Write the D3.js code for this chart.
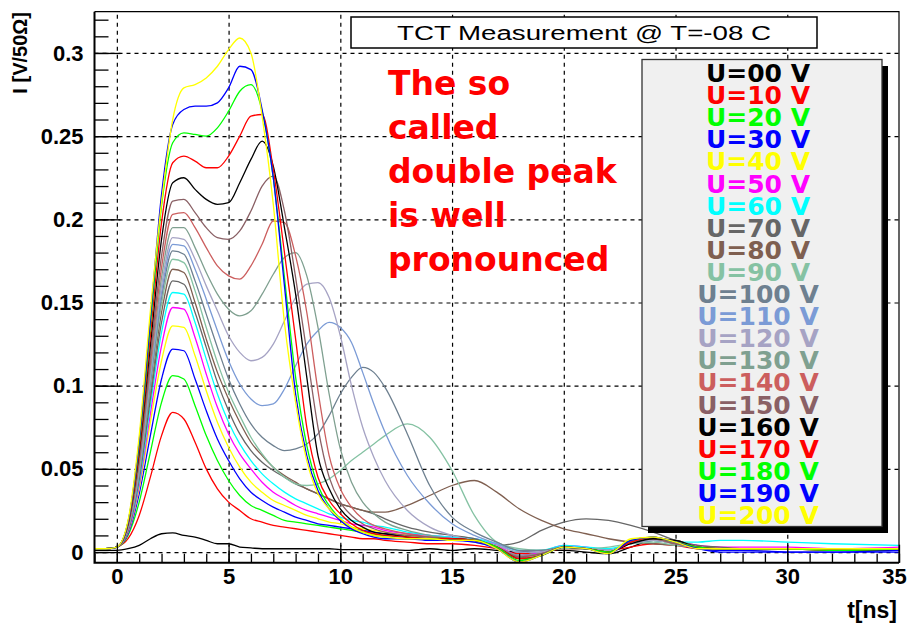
<!DOCTYPE html>
<html><head><meta charset="utf-8">
<script src="https://cdn.jsdelivr.net/npm/d3@7"></script>
<style>
html,body{margin:0;padding:0;background:#fff;}
svg{display:block;}
</style></head><body>
<svg id="chart" width="910" height="624"></svg>
<script>
// sampling times in ns
const times = [-1,-0.5,0,0.5,1,1.5,2,2.5,3,3.5,
  4,4.5,5,5.5,6,6.5,7,7.5,8,8.5,
  9,9.5,10,10.5,11,11.5,12,
  13,14,15,16,17,18,19,20,21,22,
  23,24,25,26,27,28,30,32,35];

// bias voltages and legend labels
const voltages = [0,10,20,30,40,50,60,70,80,90,100,110,120,130,140,150,160,170,180,190,200];
const legendLabels = ["U=00 V","U=10 V","U=20 V","U=30 V","U=40 V","U=50 V","U=60 V","U=70 V","U=80 V","U=90 V",
  "U=100 V","U=110 V","U=120 V","U=130 V","U=140 V","U=150 V","U=160 V","U=170 V","U=180 V","U=190 V","U=200 V"];
const colors = ["#000000","#ff0000","#00ff00","#0000ff","#ffff00","#ff00ff","#00ffff","#666666","#7f5f50","#85c2a3",
  "#6e8090","#7b9bd6","#a6a3c4","#7fa090","#cc5e5e","#8a6065","#000000","#ff0000","#00ff00","#0000ff","#ffff00"];

// current I [V/50 Ohm] for each bias voltage
const u000 = [0.001,0.001,0.001,0.002,0.004,0.008,0.011,0.0115,0.010,0.009,
  0.007,0.005,0.005,0.003,0.0025,0.002,0.002,0.002,0.002,0.002,
  0.002,0.002,0.0015,0.0015,0.0015,0.0015,0.0015,
  0.001,0.002,0.001,0.002,0.001,0.000,0.001,0.001,0.000,-0.001,
  0.003,0.007,0.007,0.002,0.001,0.001,0.002,0.001,0.001];
const u010 = [0.002,0.002,0.003,0.008,0.022,0.045,0.070,0.084,0.080,0.066,
  0.050,0.038,0.030,0.025,0.020,0.018,0.016,0.015,0.014,0.013,
  0.012,0.011,0.010,0.009,0.008,0.008,0.007,
  0.006,0.005,0.005,0.004,0.002,-0.001,0.000,0.002,0.002,0.001,
  0.003,0.005,0.004,0.002,0.002,0.002,0.002,0.001,0.002];
const u020 = [0.002,0.002,0.003,0.010,0.030,0.060,0.090,0.106,0.104,0.088,
  0.070,0.055,0.043,0.034,0.028,0.025,0.022,0.019,0.018,0.017,
  0.016,0.015,0.014,0.013,0.012,0.011,0.010,
  0.009,0.008,0.008,0.007,0.003,-0.002,0.000,0.003,0.002,0.001,
  0.005,0.007,0.005,0.003,0.002,0.002,0.002,0.002,0.002];
const u030 = [0.002,0.002,0.003,0.011,0.035,0.070,0.104,0.122,0.121,0.104,
  0.085,0.068,0.055,0.044,0.036,0.031,0.027,0.024,0.021,0.019,
  0.017,0.016,0.015,0.014,0.013,0.012,0.011,
  0.010,0.009,0.008,0.007,0.003,-0.003,-0.001,0.003,0.002,0.000,
  0.006,0.008,0.005,0.002,0.001,0.001,0.000,0.000,0.001];
const u040 = [0.002,0.002,0.003,0.012,0.038,0.078,0.115,0.136,0.135,0.118,
  0.097,0.078,0.063,0.051,0.042,0.036,0.031,0.028,0.025,0.022,
  0.020,0.018,0.017,0.015,0.014,0.013,0.012,
  0.010,0.009,0.008,0.007,0.003,-0.003,-0.001,0.003,0.002,0.000,
  0.007,0.008,0.005,0.003,0.002,0.002,0.002,0.002,0.002];
const u050 = [0.002,0.002,0.003,0.012,0.040,0.083,0.124,0.147,0.146,0.129,
  0.107,0.087,0.071,0.059,0.050,0.042,0.036,0.032,0.028,0.025,
  0.023,0.021,0.019,0.017,0.016,0.015,0.013,
  0.011,0.010,0.009,0.008,0.004,-0.002,0.000,0.004,0.003,0.001,
  0.006,0.008,0.006,0.004,0.003,0.003,0.003,0.002,0.003];
const u060 = [0.002,0.002,0.003,0.013,0.042,0.088,0.132,0.156,0.155,0.138,
  0.116,0.095,0.078,0.065,0.055,0.047,0.041,0.036,0.032,0.029,
  0.026,0.023,0.021,0.019,0.018,0.016,0.015,
  0.012,0.010,0.009,0.008,0.005,0.001,0.001,0.004,0.003,0.002,
  0.005,0.007,0.006,0.006,0.007,0.007,0.006,0.005,0.004];
const u070 = [0.002,0.002,0.003,0.013,0.044,0.092,0.138,0.163,0.161,0.144,
  0.123,0.102,0.085,0.071,0.061,0.054,0.049,0.045,0.041,0.038,
  0.035,0.032,0.029,0.027,0.025,0.023,0.020,
  0.015,0.012,0.010,0.008,0.004,0.006,0.013,0.018,0.020,0.019,
  0.016,0.012,0.007,0.004,0.003,0.002,0.002,0.002,0.002];
const u080 = [0.002,0.002,0.003,0.013,0.046,0.096,0.144,0.170,0.168,0.150,
  0.128,0.108,0.092,0.078,0.066,0.058,0.051,0.046,0.042,0.038,
  0.035,0.032,0.029,0.027,0.025,0.024,0.024,
  0.028,0.034,0.040,0.043,0.036,0.026,0.019,0.014,0.011,0.008,
  0.006,0.005,0.004,0.003,0.002,0.002,0.002,0.002,0.002];
const u090 = [0.002,0.002,0.003,0.014,0.047,0.099,0.149,0.176,0.174,0.157,
  0.135,0.114,0.096,0.082,0.069,0.059,0.051,0.045,0.041,0.040,
  0.041,0.044,0.049,0.055,0.060,0.065,0.070,
  0.077,0.069,0.049,0.022,0.006,0.002,0.001,0.002,0.002,0.003,
  0.005,0.006,0.004,0.003,0.002,0.002,0.002,0.002,0.002];
const u100 = [0.002,0.002,0.003,0.014,0.048,0.102,0.153,0.181,0.179,0.163,
  0.143,0.123,0.104,0.089,0.077,0.069,0.064,0.061,0.062,0.065,
  0.071,0.082,0.095,0.105,0.111,0.108,0.099,
  0.071,0.040,0.021,0.012,0.006,0.001,0.001,0.003,0.002,0.001,
  0.005,0.007,0.005,0.003,0.002,0.002,0.002,0.002,0.002];
const u110 = [0.002,0.002,0.003,0.014,0.049,0.104,0.156,0.185,0.184,0.170,
  0.152,0.133,0.115,0.101,0.092,0.088,0.089,0.098,0.112,0.125,
  0.133,0.138,0.135,0.126,0.108,0.089,0.072,
  0.046,0.029,0.017,0.010,0.005,0.000,0.000,0.003,0.002,0.001,
  0.005,0.007,0.005,0.003,0.002,0.002,0.002,0.002,0.002];
const u120 = [0.002,0.002,0.003,0.015,0.050,0.106,0.160,0.189,0.188,0.176,
  0.160,0.145,0.130,0.120,0.115,0.117,0.125,0.139,0.153,0.161,
  0.162,0.153,0.130,0.100,0.075,0.057,0.043,
  0.025,0.015,0.010,0.007,0.004,0.000,0.000,0.003,0.002,0.001,
  0.005,0.007,0.005,0.003,0.002,0.002,0.002,0.002,0.002];
const u130 = [0.002,0.002,0.003,0.015,0.052,0.109,0.165,0.195,0.195,0.183,
  0.168,0.155,0.146,0.142,0.145,0.155,0.167,0.177,0.180,0.166,
  0.135,0.095,0.062,0.042,0.030,0.023,0.018,
  0.013,0.010,0.008,0.006,0.003,-0.002,-0.001,0.003,0.002,0.000,
  0.006,0.008,0.005,0.003,0.002,0.002,0.002,0.002,0.002];
const u140 = [0.002,0.002,0.003,0.016,0.054,0.113,0.171,0.203,0.204,0.195,
  0.183,0.172,0.166,0.164,0.172,0.185,0.199,0.198,0.178,0.144,
  0.097,0.058,0.038,0.027,0.020,0.016,0.014,
  0.011,0.009,0.008,0.007,0.003,-0.003,-0.001,0.003,0.002,0.000,
  0.006,0.008,0.005,0.003,0.002,0.002,0.002,0.002,0.002];
const u150 = [0.002,0.002,0.003,0.016,0.056,0.117,0.178,0.211,0.212,0.204,
  0.195,0.189,0.188,0.193,0.205,0.220,0.226,0.205,0.165,0.120,
  0.075,0.045,0.030,0.022,0.017,0.014,0.012,
  0.010,0.009,0.008,0.007,0.003,-0.003,-0.001,0.003,0.002,0.000,
  0.006,0.008,0.005,0.003,0.002,0.002,0.002,0.002,0.002];
const u160 = [0.002,0.002,0.003,0.017,0.060,0.124,0.188,0.222,0.225,0.218,
  0.212,0.209,0.210,0.222,0.236,0.247,0.232,0.195,0.155,0.105,
  0.058,0.038,0.026,0.019,0.015,0.012,0.011,
  0.009,0.008,0.008,0.007,0.003,-0.004,-0.002,0.003,0.002,0.000,
  0.005,0.008,0.007,0.003,0.002,0.002,0.002,0.002,0.002];
const u170 = [0.002,0.002,0.003,0.017,0.062,0.130,0.198,0.234,0.238,0.235,
  0.231,0.231,0.238,0.250,0.262,0.263,0.230,0.180,0.128,0.075,
  0.045,0.031,0.023,0.017,0.013,0.011,0.010,
  0.009,0.008,0.008,0.007,0.003,-0.004,-0.002,0.003,0.002,0.000,
  0.006,0.009,0.006,0.003,0.002,0.002,0.002,0.002,0.002];
const u180 = [0.002,0.002,0.003,0.018,0.065,0.136,0.208,0.246,0.252,0.251,
  0.250,0.255,0.265,0.277,0.281,0.265,0.225,0.165,0.105,0.064,
  0.040,0.028,0.020,0.015,0.012,0.010,0.009,
  0.008,0.008,0.007,0.007,0.003,-0.005,-0.002,0.003,0.002,0.000,
  0.007,0.009,0.006,0.003,0.002,0.002,0.002,0.001,0.002];
const u190 = [0.002,0.002,0.003,0.018,0.067,0.140,0.215,0.257,0.266,0.268,
  0.268,0.270,0.279,0.292,0.290,0.266,0.225,0.160,0.095,0.058,
  0.037,0.026,0.019,0.014,0.011,0.009,0.008,
  0.008,0.007,0.007,0.006,0.002,-0.006,-0.002,0.003,0.002,-0.001,
  0.007,0.009,0.006,0.002,0.000,0.000,0.000,0.000,0.000];
const u200 = [0.002,0.002,0.003,0.019,0.070,0.145,0.210,0.260,0.279,0.281,
  0.285,0.292,0.302,0.309,0.300,0.262,0.209,0.138,0.090,0.055,
  0.035,0.026,0.020,0.015,0.012,0.010,0.009,
  0.008,0.008,0.007,0.007,0.002,-0.006,-0.002,0.003,0.002,-0.001,
  0.008,0.009,0.006,0.002,0.002,0.002,0.002,0.002,0.002];

const series = [u000,u010,u020,u030,u040,u050,u060,u070,u080,u090,u100,
  u110,u120,u130,u140,u150,u160,u170,u180,u190,u200];

// axis ticks
const xMajor = [0,5,10,15,20,25,30,35];
const xMinor = d3.range(-1,36,1);
const yMajor = [0,0.05,0.1,0.15,0.2,0.25,0.3];
const yMinor = d3.range(0,0.325,0.01);
const xGrid = [0,5,10,15,20,25,30];
const yGrid = [0,0.05,0.1,0.15,0.2,0.25,0.3];

const titleText = "TCT Measurement @ T=-08 C";
const noteLines = ["The so","called","double peak","is well","pronounced"];

const svg = d3.select("#chart");
const L = 94.5, R = 899, T = 11.7, B = 562.7;
const x = d3.scaleLinear().domain([-1,35]).range([L,R]);
const y = d3.scaleLinear().domain([-0.0064,0.3248]).range([B,T]);

svg.append("rect").attr("width",910).attr("height",624).attr("fill","#fff");

svg.append("defs").append("clipPath").attr("id","plotclip")
  .append("rect").attr("x",L).attr("y",T).attr("width",R-L).attr("height",B-T);

// dashed grid
const gx = svg.append("g").attr("transform",`translate(0,${B})`)
  .call(d3.axisBottom(x).tickValues(xGrid).tickSize(-(B-T)).tickFormat(""));
gx.select(".domain").remove();
gx.selectAll("line").attr("stroke","#000").attr("stroke-width",1.2).attr("stroke-dasharray","4,4");
const gy = svg.append("g").attr("transform",`translate(${L},0)`)
  .call(d3.axisLeft(y).tickValues(yGrid).tickSize(-(R-L)).tickFormat(""));
gy.select(".domain").remove();
gy.selectAll("line").attr("stroke","#000").attr("stroke-width",1.2).attr("stroke-dasharray","4,4");

// waveforms
const line = d3.line().x((d,i)=>x(times[i])).y(d=>y(d)).curve(d3.curveMonotoneX);
svg.append("g").attr("clip-path","url(#plotclip)")
  .selectAll("path").data(series).join("path")
  .attr("d",line).attr("fill","none")
  .attr("stroke",(d,i)=>colors[i]).attr("stroke-width",1.3);

// axes with inward ticks
function styleAxis(g){
  g.select(".domain").remove();
  g.selectAll("line").attr("stroke","#000").attr("stroke-width",1.3);
  g.selectAll("text").attr("fill","#000").attr("font-family","'Liberation Sans',Arial,sans-serif")
    .attr("font-weight","bold").attr("font-size",22);
}
svg.append("g").attr("transform",`translate(${L},0)`)
  .call(d3.axisLeft(y).tickValues(yMinor).tickSize(-14).tickFormat("")).call(styleAxis);
svg.append("g").attr("transform",`translate(${L},0)`)
  .call(d3.axisLeft(y).tickValues(yMajor).tickSize(-26).tickPadding(11)
    .tickFormat(d=> d===0 ? "0" : String(+d.toFixed(2)))).call(styleAxis);
svg.append("g").attr("transform",`translate(0,${B})`)
  .call(d3.axisBottom(x).tickValues(xMinor).tickSize(-9).tickFormat("")).call(styleAxis);
const xAxisG = svg.append("g").attr("transform",`translate(0,${B})`)
  .call(d3.axisBottom(x).tickValues(xMajor).tickSize(-18).tickPadding(6).tickFormat(d3.format("d"))).call(styleAxis);
// keep the last label inside the canvas
xAxisG.selectAll(".tick text").filter(d=>d===35).attr("dx",-5);

// frame
svg.append("path").attr("d",`M${L},${T}H${R}V${B}`).attr("fill","none").attr("stroke","#000").attr("stroke-width",1.2);
svg.append("path").attr("d",`M${L},${T}V${B}H${R}`).attr("fill","none").attr("stroke","#000").attr("stroke-width",2);

// axis titles
svg.append("text").attr("x",897).attr("y",618).attr("text-anchor","end")
  .attr("font-family","'Liberation Sans',Arial,sans-serif").attr("font-weight","bold").attr("font-size",23)
  .text("t[ns]");
svg.append("text").attr("transform","translate(27,12) rotate(-90)").attr("text-anchor","end")
  .attr("font-family","'Liberation Sans',Arial,sans-serif").attr("font-weight","bold").attr("font-size",20)
  .text("I [V/50Ω]");

// title box
svg.append("rect").attr("x",351).attr("y",17).attr("width",466).attr("height",31)
  .attr("fill","#fff").attr("stroke","#000").attr("stroke-width",1.5);
svg.append("text").attr("x",584).attr("y",40).attr("text-anchor","middle")
  .attr("font-family","'Liberation Sans',Arial,sans-serif").attr("font-size",20)
  .attr("textLength",374).attr("lengthAdjust","spacingAndGlyphs")
  .text(titleText);

// annotation
svg.append("g").selectAll("text").data(noteLines).join("text")
  .attr("x",388).attr("y",(d,i)=>95+i*44)
  .attr("font-family","'DejaVu Sans',Verdana,sans-serif").attr("font-weight","bold").attr("font-size",33)
  .attr("fill","#ff0000").text(d=>d);

// legend
const lg = svg.append("g");
lg.append("rect").attr("x",648).attr("y",66).attr("width",240).attr("height",467).attr("fill","#000");
lg.append("rect").attr("x",642).attr("y",59.5).attr("width",240).attr("height",467)
  .attr("fill","#f0f0f0").attr("stroke","#333").attr("stroke-width",1.3);
const ly = d3.scaleLinear().domain([0,legendLabels.length-1]).range([82,524]);
lg.selectAll("text.entry").data(legendLabels).join("text").attr("class","entry")
  .attr("x",758).attr("y",(d,i)=>ly(i)).attr("text-anchor","middle")
  .attr("font-family","'DejaVu Sans',Verdana,sans-serif").attr("font-weight","bold").attr("font-size",25)
  .attr("fill",(d,i)=>colors[i]).text(d=>d);
</script>
</body></html>
